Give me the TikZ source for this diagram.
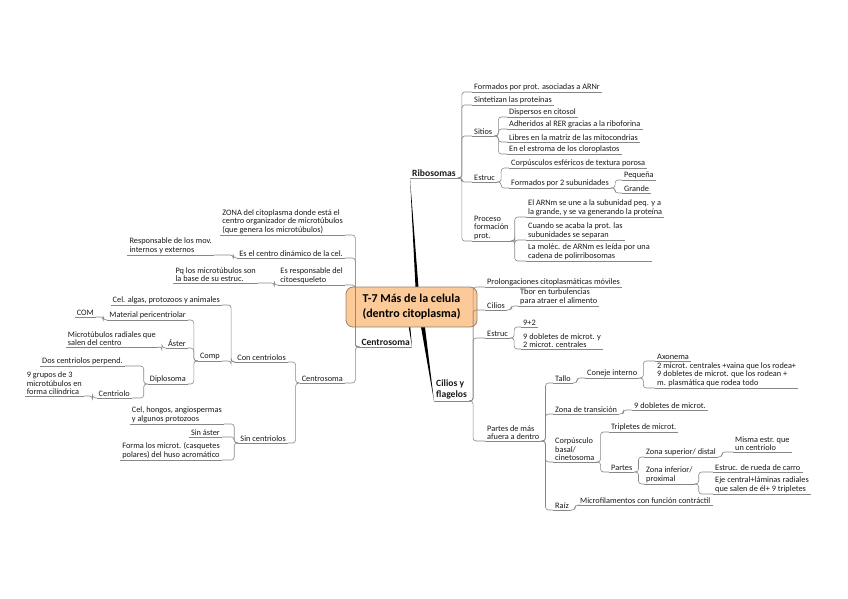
\documentclass[tikz,border=0pt]{standalone}
\usepackage{fontspec}
\setmainfont{Carlito}
\usetikzlibrary{positioning,calc,backgrounds}

\definecolor{corefill}{RGB}{252,201,152}
\definecolor{coreline}{RGB}{150,128,108}
\definecolor{linkgray}{RGB}{135,135,135}

\begin{document}
\begin{tikzpicture}[x=1pt, y=-1pt,
  txt/.style={font=\fontsize{8.3}{8.3}\selectfont, align=left, inner xsep=2pt, inner ysep=1.2pt, text=black!90},
  rt/.style={txt, anchor=south west},
  lt/.style={txt, anchor=south east},
  mainr/.style={rt, font=\fontsize{9.6}{11}\selectfont\bfseries},
  mainl/.style={lt, font=\fontsize{9.6}{11}\selectfont\bfseries},
  ul/.style={draw=linkgray, line width=0.6pt},
  link/.style={draw=linkgray, line width=0.6pt, rounded corners=3pt},
  corebox/.style={draw=coreline, fill=corefill, line width=0.8pt, rounded corners=7pt,
    minimum width=131pt, minimum height=40pt, align=center,
    font=\fontsize{12}{15}\selectfont\bfseries}]
  \useasboundingbox (0,0) rectangle (848,599);

  % Centre
  \node[corebox] (core) at (411.5,307) {T-7 Más de la celula\\(dentro citoplasma)};

  % Main topics
  \node[mainr] (ribo) at (410,178) {Ribosomas};
  \node[mainr] (cili) at (434,401) {Cilios y\\flagelos};
  \node[mainl] (cent) at (412,347) {Centrosoma};

  % Ribosomas
  \node[rt] (r1) at (472,92) {Formados por prot. asociadas a ARNr};
  \node[rt] (r2) at (472,105) {Sintetizan las proteínas};
  \node[rt] (r3) at (472,136) {Sitios};
  \node[rt] (r31) at (507,117) {Dispersos en citosol};
  \node[rt] (r32) at (507,129) {Adheridos al RER gracias a la riboforina};
  \node[rt] (r33) at (507,142) {Libres en la matriz de las mitocondrias};
  \node[rt] (r34) at (507,154) {En el estroma de los cloroplastos};
  \node[rt] (r4) at (472,182) {Estruc};
  \node[rt] (r41) at (509,168) {Corpúsculos esféricos de textura porosa};
  \node[rt] (r42) at (509,188) {Formados por 2 subunidades};
  \node[rt] (r421) at (622,180) {Pequeña};
  \node[rt] (r422) at (622,193) {Grande};
  \node[rt] (r5) at (472,241) {Proceso\\formación\\prot.};
  \node[rt] (r51) at (526,217) {El ARNm se une a la subunidad peq. y a\\la grande, y se va generando la proteína};
  \node[rt] (r52) at (526,240) {Cuando se acaba la prot. las\\subunidades se separan};
  \node[rt] (r53) at (526,261) {La moléc. de ARNm es leída por una\\cadena de polirribosomas};

  % Cilios y flagelos
  \node[rt] (c1) at (485,287) {Prolongaciones citoplasmáticas móviles};
  \node[rt] (c2) at (485,310) {Cilios};
  \node[rt] (c21) at (518,306) {Tbor en turbulencias\\para atraer el alimento};
  \node[rt] (c3) at (485,338) {Estruc};
  \node[rt] (c31) at (521,327) {9+2};
  \node[rt] (c32) at (521,349) {9 dobletes de microt. y\\2 microt. centrales};
  \node[rt] (c4) at (485,441) {Partes de más\\afuera a dentro};
  \node[rt] (c41) at (553,383) {Tallo};
  \node[rt] (c411) at (585,378) {Coneje interno};
  \node[rt] (c4111) at (655,361) {Axonema};
  \node[rt] (c4112) at (655,388) {2 microt. centrales +vaina que los rodea+\\9 dobletes de microt. que los rodean +\\m. plasmática que rodea todo};
  \node[rt] (c42) at (553,414) {Zona de transición};
  \node[rt] (c421) at (632,410) {9 dobletes de microt.};
  \node[rt] (c43) at (553,462) {Corpúsculo\\basal/\\cinetosoma};
  \node[rt] (c431) at (609,432) {Tripletes de microt.};
  \node[rt] (c432) at (609,472) {Partes};
  \node[rt] (c4321) at (644,457) {Zona superior/ distal};
  \node[rt] (c4322) at (644,484) {Zona inferior/\\proximal};
  \node[rt] (c43211) at (733,452) {Misma estr. que\\un centriolo};
  \node[rt] (c43221) at (713,472) {Estruc. de rueda de carro};
  \node[rt] (c43222) at (713,494) {Eje central+láminas radiales\\que salen de él+ 9 tripletes};
  \node[rt] (c44) at (553,510) {Raíz};
  \node[rt] (c441) at (578,505) {Microfilamentos con función contráctil};

  % Centrosoma
  \node[lt] (l1) at (345,235) {ZONA del citoplasma donde está el\\centro organizador de microtúbulos\\(que genera los microtúbulos)};
  \node[lt] (l2) at (345,258) {Es el centro dinámico de la cel.};
  \node[lt] (l21) at (214,255) {Responsable de los mov.\\internos y externos};
  \node[lt] (l3) at (345,285) {Es responsable del\\citoesqueleto};
  \node[lt] (l31) at (258,283) {Pq los microtúbulos son\\la base de su estruc.};
  \node[lt] (l4) at (345,383) {Centrosoma};
  \node[lt] (l41) at (288,362) {Con centriolos};
  \node[lt] (l411) at (222,305) {Cel. algas, protozoos y animales};
  \node[lt] (l412) at (222,361) {Comp};
  \node[lt] (l4121) at (188,320) {Material pericentriolar};
  \node[lt] (l41211) at (96,317) {COM};
  \node[lt] (l4122) at (188,348) {Áster};
  \node[lt] (l41221) at (158,347) {Microtúbulos radiales que\\salen del centro};
  \node[lt] (l4123) at (188,384) {Diplosoma};
  \node[lt] (l41231) at (125,366) {Dos centriolos perpend.};
  \node[lt] (l41232) at (132,398) {Centriolo};
  \node[lt] (l412321) at (84,396) {9 grupos de 3\\microtúbulos en\\forma cilíndrica};
  \node[lt] (l42) at (288,443) {Sin centriolos};
  \node[lt] (l421) at (224,424) {Cel, hongos, angiospermas\\y algunos protozoos};
  \node[lt] (l422) at (222,437) {Sin áster};
  \node[lt] (l423) at (222,460) {Forma los microt. (casquetes\\polares) del huso acromático};

  % underlines
  \foreach \n in {ribo,cili,cent,r1,r2,r3,r31,r32,r33,r34,r4,r41,r42,r421,r422,r5,r51,r52,r53,
    c1,c2,c21,c3,c31,c32,c4,c41,c411,c4111,c4112,c42,c421,c43,c431,c432,c4321,c4322,
    c43211,c43221,c43222,c44,c441,
    l1,l2,l21,l3,l31,l4,l41,l411,l412,l4121,l41211,l4122,l41221,l4123,l41231,l41232,
    l412321,l42,l421,l422,l423}
    \draw[ul] (\n.south west) -- (\n.south east);

  % links, right side
  \foreach \p/\c in {ribo/r1,ribo/r2,ribo/r3,ribo/r4,ribo/r5,r3/r31,r3/r32,r3/r33,r3/r34,
    r4/r41,r4/r42,r42/r421,r42/r422,r5/r51,r5/r52,r5/r53,
    cili/c1,cili/c2,cili/c3,cili/c4,c2/c21,c3/c31,c3/c32,c4/c41,c4/c42,c4/c43,c4/c44,
    c41/c411,c411/c4111,c411/c4112,c42/c421,c43/c431,c43/c432,c432/c4321,c432/c4322,
    c4321/c43211,c4322/c43221,c4322/c43222,c44/c441}
    \draw[link] (\p.south east) -- ++(4,0) |- (\c.south west);

  % links, left side
  \foreach \p/\c in {cent/l1,cent/l2,cent/l3,cent/l4,l2/l21,l3/l31,l4/l41,l4/l42,
    l41/l411,l41/l412,l412/l4121,l412/l4122,l412/l4123,l4121/l41211,l4122/l41221,
    l4123/l41231,l4123/l41232,l41232/l412321,l42/l421,l42/l422,l42/l423}
    \draw[link] (\p.south west) -- ++(-4,0) |- (\c.south east);

  % main branches
  \begin{scope}[on background layer]
    \fill ($(core.center)+(5,0)$) -- (ribo.south west) -- ($(core.center)+(8.5,0)$) -- cycle;
    \fill ($(core.center)+(6,0)$) -- (cili.south west) -- ($(core.center)+(11,0)$) -- cycle;
    \fill ($(core.center)+(-6,0)$) -- (cent.south east) -- ($(core.center)+(-3,0)$) -- cycle;
  \end{scope}
\end{tikzpicture}
\end{document}
